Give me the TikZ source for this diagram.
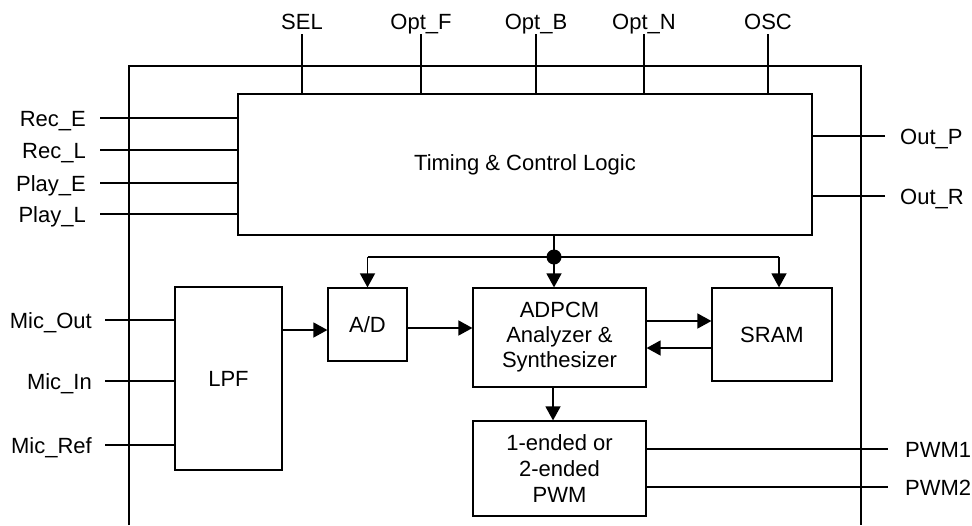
\documentclass[tikz,border=0pt]{standalone}
\usepackage{fontspec}
\setmainfont{Liberation Sans}
\usetikzlibrary{arrows.meta}
\begin{document}
\begin{tikzpicture}[x=1pt,y=-1pt,
  font=\fontsize{22}{27}\selectfont,
  blk/.style={draw,line width=1.2pt,inner sep=0pt,align=center},
  wire/.style={line width=1.3pt},
  arr/.style={line width=1.5pt,-{Triangle[length=14pt,width=15pt]}},
  frame/.style={line width=1.6pt},
  lblL/.style={anchor=base east,yshift=-8pt,inner sep=0pt},
  lblR/.style={anchor=base west,yshift=-8pt,inner sep=0pt},
  lblT/.style={anchor=base,inner sep=0pt}]
\useasboundingbox (0,0) rectangle (972,525);

% outer frame (open at the bottom)
\coordinate (fbl) at (129,525);
\coordinate (ftl) at (129,66);
\coordinate (ftr) at (861,66);
\coordinate (fbr) at (861,525);
\draw[frame] (fbl) -- (ftl) -- (ftr) -- (fbr);

% blocks
\node[blk,minimum width=574pt,minimum height=141pt] (tcl) at (525,164.5) {Timing \& Control Logic};
\node[blk,minimum width=107pt,minimum height=183pt] (lpf) at (228.5,378.5) {LPF};
\node[blk,minimum width=79pt,minimum height=73pt] (ad) at (367.5,324.5) {A/D};
\node[blk,minimum width=173pt,minimum height=99pt] (adp) at (559.5,337.5) {ADPCM\\[-2pt]Analyzer \&\\[-2pt]Synthesizer};
\node[blk,minimum width=120pt,minimum height=93pt] (sram) at (772,334.5) {SRAM};
\node[blk,minimum width=173pt,minimum height=95pt] (pwm) at (559.5,468.5) {1-ended or\\[-1pt]2-ended\\[-1pt]PWM};

% top pins
\foreach \n/\t/\x in {sel/SEL/302,optf/Opt\_F/421,optb/Opt\_B/536,optn/Opt\_N/644,osc/OSC/768}{
  \node[lblT] (\n) at (\x,29) {\t};
  \coordinate (\n e) at (\x,34);
  \draw[wire] (\n e) -- (\n e |- tcl.north);
}

% left pins to timing
\foreach \n/\t/\y in {rece/Rec\_E/118,recl/Rec\_L/150,playe/Play\_E/183,playl/Play\_L/214}{
  \node[lblL] (\n) at (86,\y) {\t};
  \coordinate (\n e) at (100,\y);
  \draw[wire] (\n e) -- (\n e -| tcl.west);
}

% right pins from timing
\foreach \n/\t/\y in {outp/Out\_P/136,outr/Out\_R/196}{
  \node[lblR] (\n) at (900,\y) {\t};
  \coordinate (\n e) at (885,\y);
  \draw[wire] (\n e) -- (\n e -| tcl.east);
}

% mic pins to LPF
\foreach \n/\t/\y in {mico/Mic\_Out/320,mici/Mic\_In/381,micr/Mic\_Ref/445}{
  \node[lblL] (\n) at (92,\y) {\t};
  \coordinate (\n e) at (105,\y);
  \draw[wire] (\n e) -- (\n e -| lpf.west);
}

% PWM outputs
\foreach \n/\t/\y in {pwmo/PWM1/449,pwmt/PWM2/487}{
  \node[lblR] (\n) at (905,\y) {\t};
  \coordinate (\n e) at (888,\y);
  \draw[wire] (pwm.east |- \n e) -- (\n e);
}

% control bus
\coordinate (dot) at (554,257);
\coordinate (busl) at (367.5,257);
\coordinate (busr) at (779,257);
\draw[wire] (tcl.south -| dot) -- (dot);
\draw[wire] (busl) -- (busr);
\fill (dot) circle (7.5pt);
\draw[arr] (busl) -- (busl |- ad.north);
\draw[arr] (dot) -- (dot |- adp.north);
\draw[arr] (busr) -- (busr |- sram.north);

% data path
\coordinate (p1) at (0,330);
\draw[arr] (lpf.east |- p1) -- (ad.west |- p1);
\coordinate (p2) at (0,328);
\draw[arr] (ad.east |- p2) -- (adp.west |- p2);
\coordinate (p3) at (0,321);
\draw[arr] (adp.east |- p3) -- (sram.west |- p3);
\coordinate (p4) at (0,348);
\draw[arr] (sram.west |- p4) -- (adp.east |- p4);
\coordinate (p5) at (553,0);
\draw[arr] (adp.south -| p5) -- (pwm.north -| p5);
\end{tikzpicture}
\end{document}
